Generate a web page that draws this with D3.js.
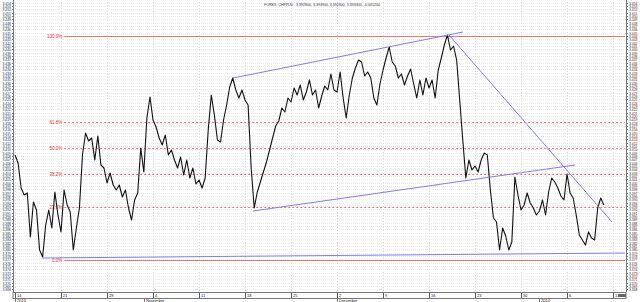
<!DOCTYPE html>
<html>
<head>
<meta charset="utf-8">
<script src="https://cdn.jsdelivr.net/npm/d3@7"></script>
<style>
  body { margin: 0; background: #fff; }
  svg { display: block; font-family: "Liberation Sans", Arial, sans-serif; }
</style>
</head>
<body>
<svg id="chart" width="640" height="302"></svg>
<script>
// title of the quote window
const title = "FOREX: CHFPLN - 3.392800, 3.393900, 3.392400, 3.393300, -0.001200";

// close prices, 3 bars per trading day, starting Monday 14 Oct 2013
const prices = [
  3.4083,3.4059,3.3984,3.3963,3.3969,3.3837,3.3942,3.3918,3.3798,3.3777,
  3.3873,3.3918,3.3864,3.3972,3.3903,3.3852,3.3978,3.3933,3.3912,3.3798,
  3.3864,3.3924,3.4083,3.4149,3.4125,3.4134,3.4068,3.4140,3.4053,3.4044,
  3.3999,3.4029,3.3993,3.3978,3.3993,3.3957,3.3978,3.3924,3.3888,3.3948,
  3.3969,3.4104,3.4032,3.4194,3.4257,3.4188,3.4167,3.4134,3.4113,3.4143,
  3.4083,3.4098,3.4068,3.4044,3.4077,3.4023,3.4068,3.4014,3.4044,3.3996,
  3.4008,3.3984,3.4014,3.4158,3.4263,3.4203,3.4128,3.4122,3.4188,3.4233,
  3.4287,3.4314,3.4278,3.4254,3.4278,3.4248,3.4233,3.4044,3.3924,3.3972,
  3.4002,3.4032,3.4062,3.4098,3.4134,3.4170,3.4185,3.4224,3.4212,3.4254,
  3.4242,3.4284,3.4263,3.4293,3.4248,3.4272,3.4308,3.4263,3.4278,3.4224,
  3.4260,3.4290,3.4278,3.4326,3.4278,3.4272,3.4332,3.4254,3.4194,3.4263,
  3.4314,3.4344,3.4368,3.4362,3.4320,3.4332,3.4314,3.4254,3.4233,3.4296,
  3.4338,3.4374,3.4407,3.4362,3.4350,3.4314,3.4326,3.4293,3.4320,3.4341,
  3.4296,3.4254,3.4308,3.4263,3.4314,3.4284,3.4308,3.4254,3.4338,3.4374,
  3.4413,3.4443,3.4398,3.4410,3.4368,3.4248,3.4128,3.4014,3.4068,3.4038,
  3.4050,3.4032,3.4068,3.4089,3.4083,3.3978,3.3894,3.3882,3.3798,3.3864,
  3.3840,3.3798,3.3822,3.4017,3.3963,3.3918,3.3933,3.3969,3.3939,3.3924,
  3.3903,3.3915,3.3948,3.3903,3.3972,3.4014,3.4002,3.3984,3.3960,3.3948,
  3.4026,3.3969,3.3954,3.3903,3.3843,3.3828,3.3813,3.3852,3.3834,3.3828,
  3.3924,3.3954,3.3933
];
const barsPerDay = 3;

// bottom axis: weekly ticks in trading days, and month marks
const weekTicks = [0, 5, 10, 15, 20, 25, 30, 35, 40, 45, 50, 55, 60, 65];
const weekLabels = ["14", "21", "28", "4", "11", "18", "25", "2", "9", "16", "23", "30", "6", "13"];
const monthTicks = [0, 14, 35, 57];
const monthLabels = ["2013", "November", "December", "2014"];

// price axis labels
const priceTicks = d3.range(3368, 3455).map(d => d / 1000);

// fibonacci retracement
const fibHigh = 3.4440, fibLow = 3.3768;
const fibRatios = [1, 0.618, 0.5, 0.382, 0.236, 0];
const fibLabels = ["100.0%", "61.8%", "50.0%", "38.2%", "23.6%", "0.0%"];
const fibStart = 5.35;

// drawn trend lines: [day, price] pairs
const trendLines = [
  [[23.70, 3.4314], [48.70, 3.4452]],
  [[25.87, 3.3915], [60.87, 3.4053]],
  [[47.17, 3.4443], [64.89, 3.3882]],
  [[2.93, 3.3774], [66.30, 3.3789]]
];

const svg = d3.select("#chart");
const plot = { left: 13, right: 626, top: 2, bottom: 292 };

const x = d3.scaleLinear().domain([-0.22, 66.3]).range([plot.left, 625]);
const y = d3.scaleLinear().domain([3.3672, 3.4542]).range([plot.bottom, plot.top]);

svg.append("defs").append("clipPath").attr("id", "clip")
  .append("rect")
  .attr("x", plot.left).attr("y", plot.top)
  .attr("width", plot.right - plot.left).attr("height", plot.bottom - plot.top);

// horizontal grid
svg.append("g")
  .selectAll("line")
  .data(priceTicks)
  .join("line")
  .attr("x1", plot.left).attr("x2", plot.right)
  .attr("y1", d => Math.round(y(d)) + 0.5).attr("y2", d => Math.round(y(d)) + 0.5)
  .attr("stroke", "#ececec")
  .attr("stroke-dasharray", "1,1");

// vertical grid
svg.append("g")
  .selectAll("line")
  .data(weekTicks)
  .join("line")
  .attr("x1", d => Math.round(x(d)) + 0.5).attr("x2", d => Math.round(x(d)) + 0.5)
  .attr("y1", plot.top).attr("y2", plot.bottom)
  .attr("stroke", d => monthTicks.includes(d) ? "#d0d0d0" : "#dcdcdc")
  .attr("stroke-dasharray", "1,2");

// fib levels
const fib = svg.append("g");
fibRatios.forEach((r, i) => {
  const p = fibLow + r * (fibHigh - fibLow);
  const yy = Math.round(y(p)) + 0.5;
  fib.append("line")
    .attr("x1", x(fibStart)).attr("x2", plot.right - 1)
    .attr("y1", yy).attr("y2", yy)
    .attr("stroke", "#ee7777")
    .attr("stroke-width", 1)
    .attr("stroke-dasharray", (r == 1 || r == 0) ? null : "2,2");
  fib.append("text")
    .attr("x", x(fibStart) - 2).attr("y", yy + 1.5)
    .attr("text-anchor", "end")
    .attr("font-size", 4.5)
    .attr("fill", "#dd3333")
    .text(fibLabels[i]);
});

// price line
const line = d3.line()
  .x((d, i) => x(i / barsPerDay))
  .y(d => y(d));

svg.append("path")
  .datum(prices)
  .attr("clip-path", "url(#clip)")
  .attr("fill", "none")
  .attr("stroke", "#111")
  .attr("stroke-width", 1.1)
  .attr("stroke-linejoin", "round")
  .attr("d", line);

// trend lines
svg.append("g")
  .attr("clip-path", "url(#clip)")
  .selectAll("line")
  .data(trendLines)
  .join("line")
  .attr("x1", d => x(d[0][0])).attr("y1", d => y(d[0][1]))
  .attr("x2", d => x(d[1][0])).attr("y2", d => y(d[1][1]))
  .attr("stroke", "#7f7fe6")
  .attr("stroke-width", 1);

// axis frames
svg.append("line")
  .attr("x1", plot.left + 0.5).attr("x2", plot.left + 0.5)
  .attr("y1", 0).attr("y2", plot.bottom)
  .attr("stroke", "#777");
svg.append("line")
  .attr("x1", plot.right + 0.5).attr("x2", plot.right + 0.5)
  .attr("y1", 0).attr("y2", plot.bottom)
  .attr("stroke", "#777");

// price labels both sides
const leftAxis = svg.append("g");
const rightAxis = svg.append("g");
priceTicks.forEach(p => {
  const yy = Math.round(y(p)) + 0.5;
  leftAxis.append("line")
    .attr("x1", plot.left - 1).attr("x2", plot.left)
    .attr("y1", yy).attr("y2", yy).attr("stroke", "#777");
  leftAxis.append("text")
    .attr("x", plot.left - 2).attr("y", yy + 1.3)
    .attr("text-anchor", "end").attr("font-size", 3.4).attr("fill", "#333")
    .text(d3.format(".3f")(p));
  rightAxis.append("line")
    .attr("x1", plot.right).attr("x2", plot.right + 2)
    .attr("y1", yy).attr("y2", yy).attr("stroke", "#777");
  rightAxis.append("text")
    .attr("x", plot.right + 3).attr("y", yy + 1.3)
    .attr("font-size", 3.4).attr("fill", "#333")
    .text(d3.format(".3f")(p));
});

// bottom time axis
const bottom = svg.append("g");
bottom.append("rect")
  .attr("x", plot.left).attr("y", plot.bottom + 0.5)
  .attr("width", plot.right - plot.left).attr("height", 6)
  .attr("fill", "#fff").attr("stroke", "#777");
weekTicks.forEach((t, i) => {
  const xx = Math.round(x(t)) + 0.5;
  bottom.append("line")
    .attr("x1", xx).attr("x2", xx)
    .attr("y1", plot.bottom + 1).attr("y2", plot.bottom + 6)
    .attr("stroke", "#555");
  bottom.append("text")
    .attr("x", xx + 1.5).attr("y", plot.bottom + 5.3)
    .attr("font-size", 4).attr("fill", "#222")
    .text(weekLabels[i]);
});
monthTicks.forEach((t, i) => {
  const xx = Math.round(x(t)) + 0.5;
  bottom.append("line")
    .attr("x1", xx).attr("x2", xx)
    .attr("y1", plot.bottom + 6).attr("y2", 302)
    .attr("stroke", "#777");
  bottom.append("text")
    .attr("x", xx + 1.5).attr("y", 301.5)
    .attr("font-size", 4).attr("fill", "#222")
    .text(monthLabels[i]);
});
bottom.append("rect")
  .attr("x", 618).attr("y", plot.bottom + 2)
  .attr("width", 8).attr("height", 3)
  .attr("fill", "#666");

// title
svg.append("text")
  .attr("x", 322).attr("y", 6)
  .attr("text-anchor", "middle")
  .attr("font-size", 3.6)
  .attr("fill", "#333")
  .text(title);
</script>
</body>
</html>
